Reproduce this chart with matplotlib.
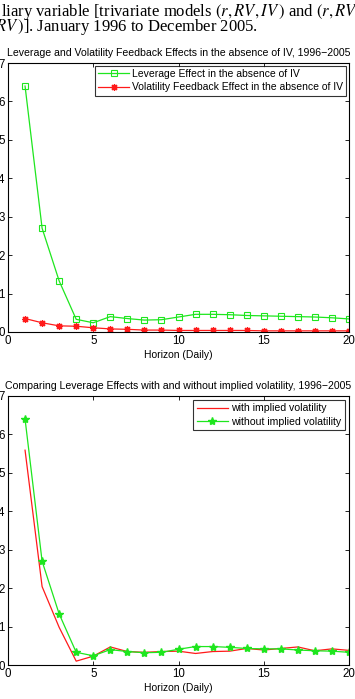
import matplotlib.pyplot as plt

# dati
horizon = list(range(1, 21))

leverage_no_iv = [6.40, 2.70, 1.33, 0.33, 0.24, 0.40, 0.35, 0.31, 0.32, 0.39,
                  0.46, 0.46, 0.45, 0.43, 0.42, 0.41, 0.40, 0.39, 0.37, 0.34]
vol_feedback_no_iv = [0.35, 0.24, 0.16, 0.15, 0.11, 0.08, 0.07, 0.05, 0.05, 0.04,
                      0.04, 0.04, 0.04, 0.04, 0.03, 0.03, 0.03, 0.03, 0.03, 0.03]
leverage_with_iv = [5.59, 2.04, 0.98, 0.10, 0.23, 0.47, 0.35, 0.33, 0.35, 0.36,
                    0.30, 0.35, 0.36, 0.43, 0.39, 0.43, 0.47, 0.37, 0.42, 0.38]
leverage_without_iv = [6.40, 2.70, 1.33, 0.33, 0.24, 0.40, 0.35, 0.32, 0.33, 0.41,
                       0.48, 0.48, 0.46, 0.43, 0.42, 0.42, 0.39, 0.37, 0.36, 0.33]

title_top = 'Leverage and Volatility Feedback Effects in the absence of IV, 1996\u22122005'
title_bottom = 'Comparing Leverage Effects with and without implied volatility, 1996\u22122005'
xlabel = 'Horizon (Daily)'

plt.rcParams['font.family'] = ['Liberation Sans', 'DejaVu Sans']
plt.rcParams['mathtext.fontset'] = 'stix'

GREEN = '#1ee61e'
RED = '#ff1a1a'

fig = plt.figure(figsize=(3.55, 6.99), dpi=100)

# didascalia tagliata in alto (testo del paper)
fig.text(1 / 355, 1 - 16 / 699,
         'liary variable [trivariate models $(r, RV, IV\\,)$ and $(r, RV$',
         family='Liberation Serif', fontsize=12, va='baseline', ha='left')
fig.text(-5 / 355, 1 - 31 / 699,
         '$RV\\,)$]. January 1996 to December 2005.',
         family='Liberation Serif', fontsize=12, va='baseline', ha='left')


def style_axes(ax, title):
    ax.set_xlim(0, 20)
    ax.set_ylim(0, 7)
    ax.set_xticks([0, 5, 10, 15, 20])
    ax.set_yticks(range(0, 8))
    ax.tick_params(direction='in', top=True, right=True, labelsize=8.3,
                   length=3, width=0.6, pad=2.5)
    for s in ax.spines.values():
        s.set_linewidth(0.8)
    ax.set_xlabel(xlabel, fontsize=7.5, labelpad=1.5)
    ax.set_title(title, fontsize=7.6, pad=5)


ax1 = fig.add_axes([8 / 355, 1 - 332 / 699, 341 / 355, 269 / 699])
ax1.plot(horizon, leverage_no_iv, color=GREEN, marker='s', markersize=4.5,
         markerfacecolor='none', markeredgewidth=0.8, linewidth=0.9,
         label='Leverage Effect in the absence of IV')
ax1.plot(horizon, vol_feedback_no_iv, color=RED, marker=(8, 2, 0), markersize=5,
         markeredgewidth=0.9, linewidth=0.9,
         label='Volatility Feedback Effect in the absence of IV')
style_axes(ax1, title_top)
leg1 = ax1.legend(loc='upper right', fontsize=7.5, frameon=True, fancybox=False,
                  edgecolor='black', borderpad=0.3, labelspacing=0.35,
                  handlelength=3.0, handletextpad=0.3, borderaxespad=0.25)
leg1.get_frame().set_linewidth(0.8)

ax2 = fig.add_axes([8 / 355, 1 - 665 / 699, 341 / 355, 269 / 699])
ax2.plot(horizon, leverage_with_iv, color=RED, linewidth=0.9,
         label='with implied volatility')
ax2.plot(horizon, leverage_without_iv, color=GREEN, marker='*', markersize=6,
         linewidth=0.9, label='without implied volatility')
style_axes(ax2, title_bottom)
leg2 = ax2.legend(loc='upper right', fontsize=7.6, frameon=True, fancybox=False,
                  edgecolor='black', borderpad=0.3, labelspacing=0.35,
                  handlelength=3.0, handletextpad=0.3, borderaxespad=0.4)
leg2.get_frame().set_linewidth(0.8)

fig.savefig('out.png', dpi=100)
